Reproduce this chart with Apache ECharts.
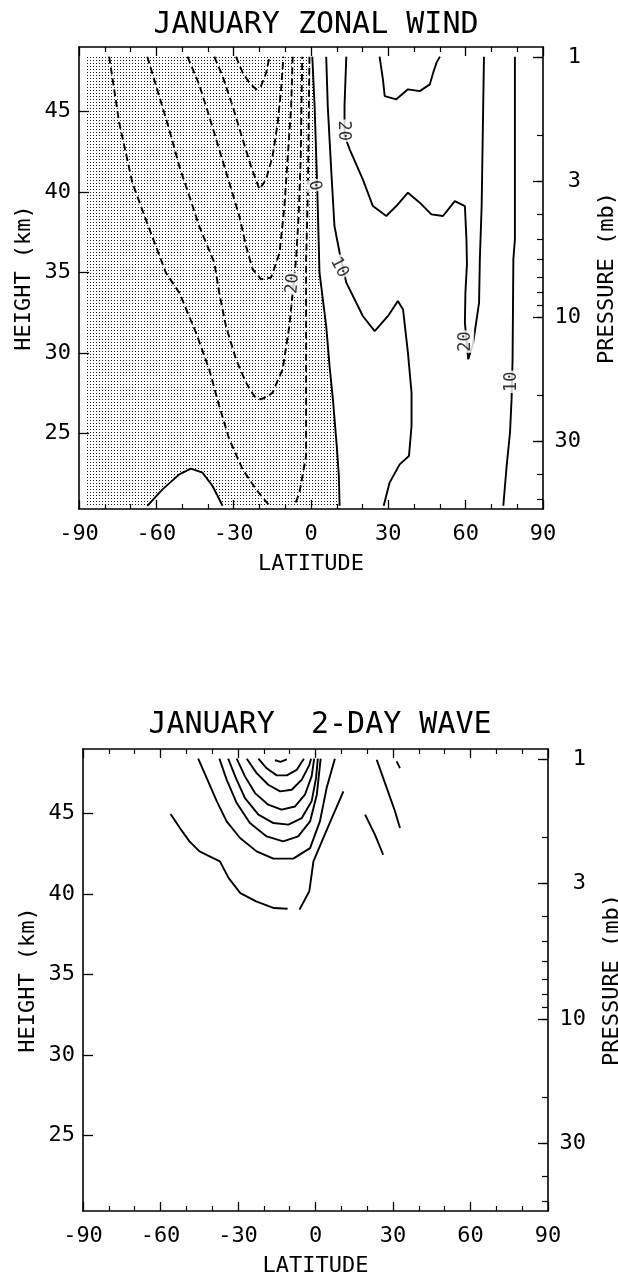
<!DOCTYPE html>
<html><head><meta charset="utf-8">
<script src="https://cdn.jsdelivr.net/npm/echarts@6/dist/echarts.min.js"></script>
<style>html,body{margin:0;padding:0;background:#fff}#c{width:618px;height:1277px}</style>
</head><body><div id="c"></div>
<script>
// ---------- axis values ----------
const latMin = -90, latMax = 90, latStep = 30;
const hMin = 20.3, hMax = 49.0;
const heightTicks = [25, 30, 35, 40, 45];
const pMajor = [1, 3, 10, 30];
const pMinor = [1, 2, 3, 4, 5, 6, 7, 8, 9, 10, 20, 30, 40, 50];
const pRefKm = 48.354;    // height of 1 mb
const pDecadeKm = 16.149; // km per decade of pressure

const titles = ['JANUARY ZONAL WIND', 'JANUARY  2-DAY WAVE'];

// ---------- January zonal wind: contours [lat, km] ----------
const uNeg10a = [[-78.3,48.4],[-74.4,44.3],[-69.3,40.57],[-64.1,38.29],[-56.3,34.98],[-51.1,33.74],[-44.6,31.25],[-39.5,28.98],[-35.6,26.7],[-31.7,24.63],[-26.5,22.76],[-21.3,21.52],[-16.1,20.5]];
const uNeg10b = [[-0.6,48.4],[-1.2,40.0],[-1.9,35.8],[-1.9,23.6],[-4.5,21.3],[-6.4,20.5]];
const uNeg20 = [[-63.5,48.4],[-58.9,45.95],[-55.0,43.88],[-51.1,41.6],[-47.2,39.74],[-43.4,37.88],[-37.5,35.6],[-35.6,33.74],[-33.0,31.66],[-29.1,29.6],[-25.2,28.15],[-22.0,27.3],[-19.4,27.11],[-16.8,27.3],[-14.9,27.53],[-11.0,28.98],[-8.4,31.66],[-7.1,33.74],[-5.8,35.81],[-4.8,38.5],[-4.0,42.0],[-3.4,48.4]];
const uNeg30 = [[-47.9,48.4],[-43.4,46.68],[-39.5,44.71],[-35.6,42.64],[-31.7,40.57],[-27.8,38.5],[-25.2,36.63],[-22.6,35.19],[-19.4,34.57],[-15.5,34.67],[-13.5,35.6],[-12.2,36.22],[-10.3,39.12],[-9.0,42.22],[-7.7,45.33],[-7.1,48.4]];
const uNeg40 = [[-37.5,48.4],[-34.3,47.19],[-30.4,45.33],[-26.5,43.26],[-23.3,41.6],[-20.0,40.16],[-17.4,40.78],[-14.9,42.22],[-12.9,44.3],[-11.6,46.37],[-10.7,48.4]];
const uNeg50 = [[-29.1,48.4],[-26.5,47.4],[-23.9,46.78],[-21.3,46.37],[-19.4,46.57],[-17.4,47.4],[-16.1,48.4]];
const uZero = [[0.5,48.4],[1.4,45.33],[2.4,40.36],[3.3,34.98],[5.9,31.66],[7.2,29.18],[8.5,27.11],[10.0,24.21],[10.8,22.35],[11.1,20.5]];
const uZeroBump = [[-63.5,20.5],[-57.6,21.52],[-51.1,22.45],[-46.6,22.81],[-42.1,22.56],[-38.2,21.73],[-34.3,20.5]];
const uPos10a = [[5.9,48.4],[6.5,45.33],[7.9,41.19],[9.1,37.88],[11.1,36.22],[13.7,34.36],[20.1,32.29],[24.7,31.35],[29.9,32.29],[33.7,33.22],[35.7,32.7],[37.6,30.01],[39.0,27.53],[39.0,25.45],[38.0,23.59],[34.4,23.07],[30.5,21.94],[28.2,20.5]];
const uPos20a = [[13.7,48.4],[13.0,45.33],[13.0,43.5],[15.0,42.64],[20.1,40.78],[24.0,39.12],[29.2,38.5],[33.1,39.12],[37.6,39.95],[42.2,39.33],[46.7,38.6],[51.2,38.5],[55.8,39.43],[59.7,39.12],[60.3,37.05],[60.5,35.5],[59.9,33.74],[59.7,31.88],[61.0,29.6],[62.9,30.6],[65.2,33.12],[65.5,35.81],[66.2,39.12],[66.8,45.33],[67.1,48.4]];
const uPos20b = [[26.6,48.4],[27.9,46.99],[28.6,45.95],[33.1,45.75],[37.6,46.37],[42.2,46.26],[46.1,46.68],[47.4,47.4],[48.7,48.03],[50.0,48.4]];
const uPos10b = [[79.1,48.4],[79.1,43.26],[79.1,37.05],[78.5,35.81],[78.2,29.6],[77.8,27.11],[77.2,25.04],[75.9,22.97],[74.6,20.5]];
// shaded (easterly) region limits
const shadeWest = -87, shadeTop = 48.4, shadeBottom = 20.5;
// contour labels
const uLabelText = ['0', '10', '20', '20', '20', '10'];
const uLabelPos = [[1.4,40.4],[10.9,35.3],[12.6,43.8],[-7.1,34.3],[60.0,30.7],[77.8,28.2]];
const uLabelRot = [-80, -62, -90, 85, 90, 90];

// ---------- January 2-day wave: contours [lat, km] ----------
const wTiny = [[-15.7,48.3],[-13.5,48.2],[-11.1,48.35]];
const wArc1 = [[-22.1,48.4],[-18.9,47.8],[-15.0,47.36],[-11.1,47.36],[-7.3,47.7],[-4.5,48.4]];
const wArc2 = [[-26.6,48.4],[-22.8,47.5],[-18.3,46.78],[-13.7,46.37],[-9.2,46.47],[-5.3,47.1],[-2.4,48.0],[-1.7,48.4]];
const wArc3 = [[-30.5,48.4],[-27.3,47.3],[-23.4,46.26],[-18.3,45.54],[-13.1,45.23],[-7.9,45.43],[-4.1,46.16],[-1.5,47.3],[-0.5,48.4]];
const wArc4 = [[-33.8,48.4],[-30.8,47.19],[-27.3,45.95],[-22.1,44.92],[-16.3,44.4],[-10.5,44.3],[-5.3,44.71],[-1.5,45.75],[0.2,47.19],[0.9,48.4]];
const wArc5 = [[-37.2,48.4],[-34.4,47.1],[-30.5,45.64],[-25.4,44.4],[-18.9,43.57],[-12.5,43.26],[-6.7,43.57],[-2.1,44.5],[0.5,46.16],[2.0,48.4]];
const wArc6 = [[-45.4,48.4],[-42.1,47.19],[-38.2,45.75],[-34.4,44.5],[-29.2,43.47],[-22.8,42.64],[-16.3,42.19],[-8.6,42.19],[-2.1,42.84],[1.7,44.5],[4.3,46.57],[7.5,48.4]];
const wOuterA = [[-56.1,44.96],[-52.5,44.09],[-48.8,43.26],[-44.9,42.64],[-39.6,42.22],[-37.0,42.02],[-33.6,40.98],[-29.1,40.05],[-23.0,39.53],[-16.1,39.12],[-10.8,39.08]];
const wOuterB = [[-6.2,39.02],[-2.4,40.16],[-0.8,42.02],[3.0,43.47],[6.9,44.92],[10.8,46.37]];
const wNorth1 = [[23.7,48.33],[27.6,46.57],[30.8,45.12],[32.7,44.09]];
const wNorth2 = [[31.4,48.23],[32.7,47.81]];
const wNorth3 = [[19.2,44.92],[23.0,43.68],[26.2,42.43]];

// ---------- helpers ----------
const FONT = 'DejaVu Sans Mono';
const toLogP = p => Math.log10(p);
const pAxisMin = (pRefKm - hMax) / pDecadeKm;
const pAxisMax = (pRefKm - hMin) / pDecadeKm;

const dot = document.createElement('canvas');
dot.width = 3; dot.height = 3;
(function(){ const g = dot.getContext('2d'); g.fillStyle = '#1a1a1a'; g.fillRect(0, 0, 1, 1); })();
const dotPattern = { image: dot, repeat: 'repeat' };

const shadePoly = [[shadeWest, shadeTop]]
  .concat(uZero)
  .concat([[uZeroBump[uZeroBump.length-1][0], shadeBottom]])
  .concat(uZeroBump.slice().reverse())
  .concat([[shadeWest, shadeBottom]]);

function lineS(data, xi, yi, dashed) {
  return { type: 'line', data: data, xAxisIndex: xi, yAxisIndex: yi, symbol: 'none', silent: true, z: 3,
    lineStyle: { color: '#000', width: 1.9, type: dashed ? [7, 4] : 'solid' } };
}
function shadeS(poly, xi, yi) {
  return { type: 'custom', xAxisIndex: xi, yAxisIndex: yi, silent: true, z: 1, data: poly,
    renderItem: function (params, api) {
      if (params.dataIndex !== 0) return null;
      return { type: 'polygon', shape: { points: poly.map(p => api.coord(p)) },
        style: { fill: dotPattern, stroke: null } };
    } };
}
function labelS(texts, pos, rots, xi, yi) {
  return { type: 'scatter', xAxisIndex: xi, yAxisIndex: yi, symbolSize: 0, silent: true, z: 6,
    data: pos.map((p, i) => ({ value: p, label: { formatter: texts[i], rotate: rots[i] } })),
    label: { show: true, position: 'inside', fontFamily: FONT, fontSize: 17, color: '#000',
      backgroundColor: '#fff', padding: [0, 1] } };
}

const axisLineS = { show: true, onZero: false, lineStyle: { color: '#000', width: 1.6 } };
const txt = { fontFamily: FONT, fontSize: 22, color: '#000' };

function xAxes(g) {
  const base = { type: 'value', gridIndex: g, min: latMin, max: latMax, interval: latStep,
    splitLine: { show: false }, axisLine: axisLineS,
    axisTick: { show: true, inside: true, length: 9, lineStyle: { color: '#000', width: 1.3 } },
    minorTick: { show: true, splitNumber: 3, length: 5, lineStyle: { color: '#000', width: 1.2 } } };
  return [
    Object.assign({}, base, { position: 'bottom',
      axisLabel: Object.assign({ margin: 14 }, txt),
      name: 'LATITUDE', nameLocation: 'middle', nameGap: 44, nameMoveOverlap: false, nameTextStyle: txt }),
    Object.assign({}, base, { position: 'top', axisLabel: { show: false } })
  ];
}
function yAxes(g) {
  return [
    { type: 'value', gridIndex: g, position: 'left', min: hMin, max: hMax,
      splitLine: { show: false }, axisLine: axisLineS,
      axisTick: { show: true, inside: true, length: 10, customValues: heightTicks, lineStyle: { color: '#000', width: 1.3 } },
      axisLabel: Object.assign({ margin: 8, customValues: heightTicks }, txt),
      name: 'HEIGHT (km)', nameLocation: 'middle', nameGap: 44, nameRotate: 90, nameMoveOverlap: false, nameTextStyle: txt },
    { type: 'value', gridIndex: g, position: 'right', inverse: true, min: pAxisMin, max: pAxisMax,
      splitLine: { show: false }, axisLine: axisLineS,
      axisTick: { show: true, inside: true, length: 10, customValues: pMajor.map(toLogP), lineStyle: { color: '#000', width: 1.3 } },
      axisLabel: Object.assign({ margin: 38, align: 'right', customValues: pMajor.map(toLogP),
        formatter: v => String(Math.round(Math.pow(10, v))) }, txt),
      name: 'PRESSURE (mb)', nameLocation: 'middle', nameGap: 53, nameRotate: 90, nameMoveOverlap: false, nameTextStyle: txt },
    { type: 'value', gridIndex: g, position: 'right', inverse: true, min: pAxisMin, max: pAxisMax,
      splitLine: { show: false }, axisLine: { show: false, onZero: false },
      axisTick: { show: true, inside: true, length: 6, customValues: pMinor.map(toLogP), lineStyle: { color: '#000', width: 1.2 } },
      axisLabel: { show: false } }
  ];
}

const series = [
  shadeS(shadePoly, 0, 0),
  lineS(uNeg10a, 0, 0, true), lineS(uNeg10b, 0, 0, true), lineS(uNeg20, 0, 0, true),
  lineS(uNeg30, 0, 0, true), lineS(uNeg40, 0, 0, true), lineS(uNeg50, 0, 0, true),
  lineS(uZero, 0, 0, false), lineS(uZeroBump, 0, 0, false),
  lineS(uPos10a, 0, 0, false), lineS(uPos20a, 0, 0, false), lineS(uPos20b, 0, 0, false), lineS(uPos10b, 0, 0, false),
  labelS(uLabelText, uLabelPos, uLabelRot, 0, 0),
  lineS(wTiny, 2, 3, false), lineS(wArc1, 2, 3, false), lineS(wArc2, 2, 3, false), lineS(wArc3, 2, 3, false),
  lineS(wArc4, 2, 3, false), lineS(wArc5, 2, 3, false), lineS(wArc6, 2, 3, false),
  lineS(wOuterA, 2, 3, false), lineS(wOuterB, 2, 3, false),
  lineS(wNorth1, 2, 3, false), lineS(wNorth2, 2, 3, false), lineS(wNorth3, 2, 3, false)
];

const chart = echarts.init(document.getElementById('c'), null, { renderer: 'canvas' });
chart.setOption({
  animation: false,
  backgroundColor: '#fff',
  title: [
    { text: titles[0], left: 311, top: 5, textAlign: 'center', textStyle: { fontFamily: FONT, fontSize: 30, fontWeight: 'normal', color: '#000' } },
    { text: titles[1], left: 315, top: 705, textAlign: 'center', textStyle: { fontFamily: FONT, fontSize: 30, fontWeight: 'normal', color: '#000' } }
  ],
  grid: [
    { left: 79, right: 75, top: 47, height: 462, outerBoundsMode: 'none', containLabel: false },
    { left: 83, right: 70, top: 749, height: 462, outerBoundsMode: 'none', containLabel: false }
  ],
  xAxis: xAxes(0).concat(xAxes(1)),
  yAxis: yAxes(0).concat(yAxes(1)),
  series: series
});
</script></body></html>
